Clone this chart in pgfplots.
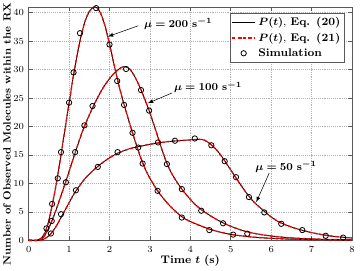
\documentclass[border=0pt]{standalone}
\usepackage{amsmath}
\usepackage{pgfplots}
\pgfplotsset{compat=1.18}
\newcommand\lblfont{\fontsize{8.3}{9.5}\selectfont}
\newcommand\ylblfont{\fontsize{7.85}{9}\selectfont}
\newcommand\tckfont{\fontsize{7.4}{8.5}\selectfont}
\begin{document}
\begin{tikzpicture}
\useasboundingbox (-21.5pt,-22.5pt) rectangle (248.5pt,180.25pt);
\begin{axis}[
  at={(0pt,0pt)}, anchor=south west,
  scale only axis,
  width=242.5pt, height=175pt,
  xmin=0, xmax=8, ymin=0, ymax=41,
  xtick={0,1,2,3,4,5,6,7,8}, ytick={0,5,10,15,20,25,30,35,40},
  grid=major,
  major grid style={densely dotted, gray!60, line width=0.4pt},
  axis line style={gray!70!black, line width=0.4pt},
  tick style={gray!70!black, line width=0.4pt},
  major tick length=3pt,
  tick align=inside,
  ticklabel style={font=\tckfont},
  xticklabel style={yshift=-1.2pt},
  xlabel={\textbf{Time} $\boldsymbol{t}$ \textbf{(s)}},
  ylabel={\textbf{Number of Observed Molecules within the RX}},
  xlabel style={font=\lblfont, at={(axis description cs:0.5,-0.087)}, anchor=center},
  ylabel style={font=\ylblfont, at={(axis description cs:-0.067,0.456)}, anchor=center},
  legend style={at={(0.978,0.976)}, anchor=north east, font=\lblfont, draw=gray!70!black, line width=0.4pt, inner sep=1.2pt},
  legend cell align=left,
  clip=false,
]
% mu = 200
\addplot[black, line width=0.65pt, smooth] coordinates {
(0,0)(0.2,0)(0.3,0.3)(0.4,1.3)(0.5,3.5)(0.6,6.8)(0.7,10.6)(0.8,15)(0.9,19.6)(1.0,24.1)(1.1,28.6)(1.2,32.6)(1.3,36)(1.4,38.6)(1.5,40.2)(1.6,40.95)(1.7,40.8)(1.8,39.6)(1.9,37.4)(2.0,34.5)(2.1,31.3)(2.2,28.2)(2.3,25.4)(2.4,22.9)(2.5,20.5)(2.6,18.2)(2.7,16.0)(2.8,14.0)(2.9,12.3)(3.0,10.9)(3.2,8.6)(3.4,6.8)(3.6,5.3)(3.8,4.1)(4.0,3.3)(4.5,1.9)(5.0,1.05)(5.5,0.6)(6,0.35)(6.5,0.2)(7,0.12)(8,0.04)};
\addlegendentry{$\boldsymbol{P(t)}$, \textbf{Eq. (20)}}
\addplot[red, line width=1pt, dash pattern=on 2.4pt off 1.6pt, smooth] coordinates {
(0,0)(0.2,0)(0.3,0.3)(0.4,1.3)(0.5,3.5)(0.6,6.8)(0.7,10.6)(0.8,15)(0.9,19.6)(1.0,24.1)(1.1,28.6)(1.2,32.6)(1.3,36)(1.4,38.6)(1.5,40.2)(1.6,40.95)(1.7,40.8)(1.8,39.6)(1.9,37.4)(2.0,34.5)(2.1,31.3)(2.2,28.2)(2.3,25.4)(2.4,22.9)(2.5,20.5)(2.6,18.2)(2.7,16.0)(2.8,14.0)(2.9,12.3)(3.0,10.9)(3.2,8.6)(3.4,6.8)(3.6,5.3)(3.8,4.1)(4.0,3.3)(4.5,1.9)(5.0,1.05)(5.5,0.6)(6,0.35)(6.5,0.2)(7,0.12)(8,0.04)};
\addlegendentry{$\boldsymbol{P(t)}$, \textbf{Eq. (21)}}
\addplot[only marks, mark=o, mark size=2pt, mark options={black, line width=0.6pt}] coordinates {
(0.44,2.1)(0.58,6.4)(0.72,10.9)(0.80,15.5)(1.00,24.2)(1.11,29.5)(1.27,36.4)(1.67,40.8)(2.00,34.4)(2.19,28.0)(2.36,23.8)(2.57,18.9)(2.82,13.5)(3.19,8.7)(3.79,4.0)(4.47,1.8)(5.06,1.0)};
\addlegendentry{\textbf{Simulation}}
% mu = 100
\addplot[black, line width=0.65pt, smooth, forget plot] coordinates {
(0,0)(0.25,0)(0.35,0.4)(0.45,1.5)(0.55,3.0)(0.65,4.8)(0.75,6.8)(0.85,8.9)(0.95,11.0)(1.05,13.2)(1.15,15.4)(1.25,17.5)(1.35,19.5)(1.45,21.2)(1.55,22.8)(1.7,25.0)(1.85,26.9)(2.0,28.4)(2.15,29.6)(2.3,30.4)(2.4,30.5)(2.5,30.1)(2.6,29.1)(2.7,27.7)(2.8,26.1)(2.9,24.3)(3.0,22.4)(3.1,20.3)(3.2,18.1)(3.3,15.9)(3.4,13.9)(3.5,12.3)(3.6,11.0)(3.8,8.9)(4.0,7.2)(4.2,5.8)(4.5,4.3)(4.8,3.1)(5.1,2.2)(5.4,1.5)(5.8,0.95)(6.2,0.6)(6.6,0.38)(7,0.25)(7.5,0.14)(8,0.08)};
\addplot[red, line width=1pt, dash pattern=on 2.4pt off 1.6pt, smooth, forget plot] coordinates {
(0,0)(0.25,0)(0.35,0.4)(0.45,1.5)(0.55,3.0)(0.65,4.8)(0.75,6.8)(0.85,8.9)(0.95,11.0)(1.05,13.2)(1.15,15.4)(1.25,17.5)(1.35,19.5)(1.45,21.2)(1.55,22.8)(1.7,25.0)(1.85,26.9)(2.0,28.4)(2.15,29.6)(2.3,30.4)(2.4,30.5)(2.5,30.1)(2.6,29.1)(2.7,27.7)(2.8,26.1)(2.9,24.3)(3.0,22.4)(3.1,20.3)(3.2,18.1)(3.3,15.9)(3.4,13.9)(3.5,12.3)(3.6,11.0)(3.8,8.9)(4.0,7.2)(4.2,5.8)(4.5,4.3)(4.8,3.1)(5.1,2.2)(5.4,1.5)(5.8,0.95)(6.2,0.6)(6.6,0.38)(7,0.25)(7.5,0.14)(8,0.08)};
\addplot[only marks, mark=o, mark size=2pt, mark options={black, line width=0.6pt}, forget plot] coordinates {
(0.57,3.4)(0.92,10.2)(1.15,15.5)(1.38,20.2)(1.58,23.6)(2.41,30.1)(2.78,26.4)(2.98,22.8)(3.42,13.4)(3.79,9.0)(4.27,5.2)(4.81,3.0)(5.41,1.16)};
% mu = 50
\addplot[black, line width=0.65pt, smooth, forget plot] coordinates {
(0,0)(0.3,0)(0.4,0.3)(0.5,0.8)(0.6,1.6)(0.7,2.7)(0.8,4.0)(0.9,5.3)(1.0,6.6)(1.1,7.9)(1.2,9.0)(1.4,10.9)(1.6,12.3)(1.8,13.5)(2.0,14.5)(2.2,15.3)(2.5,16.1)(2.8,16.6)(3.1,17.0)(3.4,17.3)(3.7,17.5)(4.0,17.65)(4.2,17.75)(4.35,17.6)(4.5,16.9)(4.65,15.9)(4.8,14.5)(4.95,12.9)(5.1,11.3)(5.25,9.7)(5.4,8.2)(5.55,6.9)(5.7,5.9)(5.85,5.0)(6.0,4.1)(6.2,3.2)(6.4,2.6)(6.6,2.1)(6.8,1.7)(7.0,1.35)(7.3,0.95)(7.6,0.65)(8.0,0.4)};
\addplot[red, line width=1pt, dash pattern=on 2.4pt off 1.6pt, smooth, forget plot] coordinates {
(0,0)(0.3,0)(0.4,0.3)(0.5,0.8)(0.6,1.6)(0.7,2.7)(0.8,4.0)(0.9,5.3)(1.0,6.6)(1.1,7.9)(1.2,9.0)(1.4,10.9)(1.6,12.3)(1.8,13.5)(2.0,14.5)(2.2,15.3)(2.5,16.1)(2.8,16.6)(3.1,17.0)(3.4,17.3)(3.7,17.5)(4.0,17.65)(4.2,17.75)(4.35,17.6)(4.5,16.9)(4.65,15.9)(4.8,14.5)(4.95,12.9)(5.1,11.3)(5.25,9.7)(5.4,8.2)(5.55,6.9)(5.7,5.9)(5.85,5.0)(6.0,4.1)(6.2,3.2)(6.4,2.6)(6.6,2.1)(6.8,1.7)(7.0,1.35)(7.3,0.95)(7.6,0.65)(8.0,0.4)};
\addplot[only marks, mark=o, mark size=2pt, mark options={black, line width=0.6pt}, forget plot] coordinates {
(0.55,1.2)(0.80,4.6)(1.17,8.8)(1.71,12.9)(2.20,15.5)(2.71,16.3)(3.20,17.2)(3.62,17.5)(4.11,17.9)(4.52,16.7)(4.85,13.9)(5.13,11.1)(5.45,7.6)(5.83,4.9)(6.25,2.9)(6.77,1.8)(7.35,0.8)(7.78,0.48)};
% annotations
\node[font=\lblfont] at (axis cs:3.70,38.0) {$\boldsymbol{\mu} \boldsymbol{=} \mathbf{200\ s}^{\boldsymbol{-}\mathbf{1}}$};
\draw[-latex, line width=0.4pt] (axis cs:2.71,37.7) -- (axis cs:1.96,35.8);
\node[font=\lblfont] at (axis cs:4.44,26.9) {$\boldsymbol{\mu} \boldsymbol{=} \mathbf{100\ s}^{\boldsymbol{-}\mathbf{1}}$};
\draw[-latex, line width=0.4pt] (axis cs:3.55,25.9) -- (axis cs:2.95,24.1);
\node[font=\lblfont] at (axis cs:6.37,12.9) {$\boldsymbol{\mu} \boldsymbol{=} \mathbf{50\ s}^{\boldsymbol{-}\mathbf{1}}$};
\draw[-latex, line width=0.4pt] (axis cs:5.95,11.8) -- (axis cs:5.63,6.7);
\end{axis}
\end{tikzpicture}
\end{document}
